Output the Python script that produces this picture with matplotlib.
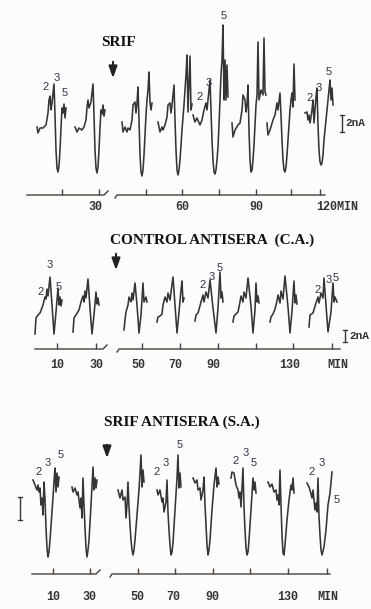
import matplotlib.pyplot as plt

W, H = 371, 609
INK = "#353535"
AXIS_INK = "#4a403a"

# ---- SRIF panel: 8 pulse complexes (x = chart position, y = pen deflection)
p1_x = [
    [37, 38, 40, 43, 46, 48, 49, 50, 51, 52, 54, 55, 56, 57, 58, 59, 60, 61, 62, 63, 64, 65, 66],
    [75, 77, 79, 82, 84, 86, 87, 88, 89, 91, 93, 94, 95, 96, 97, 98, 99, 100, 101, 102, 103, 104, 105],
    [122, 123, 125, 127, 128, 130, 132, 133, 135, 136, 137, 138, 139, 140, 141, 142, 143, 144, 145, 146, 147, 148, 149, 150, 151, 152],
    [158, 160, 162, 163, 165, 167, 168, 170, 171, 172, 174, 175, 176, 177, 178, 179, 180, 182, 184, 186, 187, 188, 190, 191, 192],
    [193, 195, 197, 200, 202, 204, 206, 207, 208, 210, 211, 212, 213, 214, 215, 216, 217, 218, 219, 220, 221, 222, 223, 224, 225, 226, 227, 228],
    [232, 233, 235, 238, 240, 242, 243, 245, 246, 247, 248, 249, 250, 251, 252, 253, 254, 255, 256, 257, 258, 259, 261, 263, 264, 265, 266],
    [267, 268, 270, 273, 275, 277, 278, 280, 281, 282, 283, 284, 285, 286, 287, 288, 289, 290, 291, 292, 293, 294, 295],
    [305, 307, 308, 309, 310, 311, 312, 313, 314, 316, 317, 318, 319, 320, 321, 322, 323, 324, 325, 326, 327, 328, 329, 330, 331, 332, 333],
]
p1_y = [
    [0, -6, -1, -1, 2, 14, 27, 31, 17, 24, 43, 12, -23, -41, -45, -39, -23, -1, 19, 14, 23, 9, 19],
    [0, -5, -1, -3, 0, 7, 20, 27, 19, 25, 43, 12, -23, -41, -46, -40, -23, -1, 17, 13, 22, 11, 17],
    [5, -5, 0, -5, -1, -3, 7, 22, 25, 14, 24, 40, 7, -28, -45, -49, -43, -28, -8, 12, 27, 37, 55, 24, 17, 24],
    [5, -5, 0, -3, 2, 10, 22, 24, 14, 22, 42, 7, -23, -43, -48, -43, -33, -3, 22, 52, 72, 15, 71, 17, 23],
    [12, 5, 9, 2, 7, 17, 24, 17, 27, 47, 17, -13, -33, -45, -47, -43, -33, -20, 2, 27, 52, 67, 102, 27, 67, 27, 62, 30],
    [4, -10, -3, 2, 4, 17, 32, 27, 15, 22, 42, -3, -33, -45, -43, -33, -18, 2, 22, 32, 85, 27, 37, 32, 89, 35, 32],
    [4, -8, -3, 7, 12, 24, 17, 34, 12, -13, -33, -43, -45, -40, -28, -13, 2, 17, 27, 34, 20, 63, 27],
    [14, 15, 7, 12, 4, 10, 17, 27, 4, 30, 39, 2, -23, -35, -38, -36, -28, -13, -3, 7, 17, 27, 37, 47, 27, 39, 22],
]
p1_peaks = [("2", 46, 40), ("3", 57, 49), ("5", 65, 34),
            ("2", 200, 30), ("3", 209, 44), ("5", 224, 111),
            ("2", 310, 29), ("3", 319, 39), ("5", 329, 55)]
p1_ticks = [62, 99, 146, 182, 219, 256, 291, 320]
p1_labels = ["30", "60", "90", "120MIN"]
p1_label_x = [95, 182, 256, 337]

# ---- CONTROL ANTISERA panel
p2_x = [
    [35, 36, 38, 40, 43, 45, 46, 47, 48, 50, 52, 54, 56, 58, 59, 60, 61, 62],
    [73, 74, 76, 79, 81, 83, 84, 85, 86, 88, 90, 92, 94, 96, 97, 98, 99],
    [124, 125, 126, 128, 129, 131, 132, 133, 135, 137, 139, 141, 143, 144, 146, 147],
    [157, 158, 160, 162, 163, 165, 167, 168, 170, 173, 175, 177, 179, 181, 182, 183, 184],
    [195, 196, 198, 201, 203, 204, 206, 208, 210, 213, 216, 218, 220, 221, 222, 223],
    [233, 234, 236, 238, 240, 241, 243, 244, 246, 248, 251, 253, 255, 256, 257, 258, 259],
    [270, 271, 273, 275, 277, 278, 280, 281, 283, 285, 288, 290, 292, 294, 295, 296, 297],
    [309, 310, 313, 316, 318, 319, 321, 323, 324, 326, 328, 331, 333, 334, 335, 337],
]
p2_y = [
    [-3, 13, 16, 18, 26, 34, 32, 42, 35, 54, 26, -3, 19, 43, 26, 34, 25, 31],
    [-1, 13, 16, 21, 29, 35, 29, 40, 33, 52, 23, -3, 16, 39, 27, 33, 26],
    [1, 11, 19, 26, 34, 29, 38, 31, 48, 26, -2, 16, 48, 29, 34, 29],
    [9, 14, 15, 17, 26, 34, 29, 38, 31, 54, 26, -2, 19, 41, 50, 29, 33],
    [10, 16, 18, 29, 36, 29, 39, 33, 51, 23, -2, 23, 59, 33, 39, 29],
    [9, 15, 17, 19, 29, 35, 29, 39, 33, 53, 25, -2, 21, 48, 29, 35, 28],
    [9, 14, 17, 22, 30, 36, 28, 40, 32, 55, 24, -2, 20, 50, 28, 36, 27],
    [4, 16, 18, 28, 34, 28, 38, 33, 53, 26, -1, 19, 48, 29, 34, 29],
]
p2_peaks = [("2", 41, 39), ("3", 50, 66), ("5", 59, 44),
            ("2", 203, 46), ("3", 212, 54), ("5", 220, 63),
            ("2", 318, 41), ("3", 329, 51), ("5", 336, 53)]
p2_ticks = [57, 96, 142, 180, 218, 256, 293, 332]
p2_labels = ["10", "30", "50", "70", "90", "130", "MIN"]
p2_label_x = [57, 96, 138, 175, 213, 290, 338]

# ---- SRIF ANTISERA panel
p3_x = [
    [33, 35, 37, 38, 39, 40, 41, 42, 43, 44, 45, 46, 47, 48, 49, 50, 52, 54, 55, 56, 57, 58, 59],
    [72, 73, 75, 77, 78, 80, 81, 82, 83, 84, 85, 86, 87, 88, 89, 91, 93, 94, 95, 96, 97],
    [118, 120, 122, 123, 125, 126, 127, 128, 129, 130, 131, 132, 133, 134, 135, 137, 139, 141, 142, 143, 144],
    [157, 158, 160, 162, 163, 164, 166, 167, 168, 169, 170, 171, 172, 173, 175, 177, 178, 179, 180, 181],
    [193, 195, 197, 198, 200, 201, 203, 204, 205, 206, 207, 208, 209, 210, 212, 214, 216, 217, 218, 219],
    [231, 232, 234, 236, 238, 239, 240, 241, 243, 244, 245, 246, 247, 248, 249, 251, 253, 254, 255, 256],
    [268, 270, 272, 274, 276, 277, 278, 279, 280, 281, 282, 283, 284, 285, 287, 289, 291, 292, 293, 294],
    [307, 309, 310, 312, 313, 314, 315, 316, 317, 318, 319, 320, 321, 322, 324, 326, 328, 330, 332],
]
p3_y = [
    [2, -3, -8, -3, -10, -6, -23, -16, -33, 0, -18, -46, -66, -75, -70, -58, -30, 0, 14, -10, 9, -5, 5],
    [-5, -10, -6, -13, -10, -26, -16, -36, 4, -23, -46, -66, -75, -68, -58, -23, 15, -8, 4, -6, 2],
    [-8, -16, -8, -18, -15, -36, -23, 0, -25, -43, -58, -68, -73, -68, -58, -33, -8, 27, -5, 12, 0],
    [-8, -13, -8, -20, -16, -30, -20, 2, -31, -48, -63, -73, -70, -61, -28, 4, 27, -6, 9, -5],
    [4, -1, 2, -8, -6, -18, -8, 5, -23, -43, -63, -73, -68, -58, -28, -3, 14, -5, 5, -2],
    [4, 10, 9, -3, -8, -16, -10, -25, 14, -25, -48, -66, -73, -70, -58, -28, 4, -8, 0, -11],
    [0, -5, -2, -10, -8, -18, -13, -23, 12, -23, -53, -71, -73, -63, -38, -18, -3, -8, 4, -11],
    [-1, -5, -8, -16, -8, -18, -28, -21, -30, 4, -35, -53, -68, -73, -65, -48, -23, -11, 10],
]
p3_peaks = [("2", 39, 10), ("3", 48, 19), ("5", 61, 27),
            ("2", 157, 10), ("3", 166, 19), ("5", 180, 37),
            ("2", 236, 21), ("3", 246, 29), ("5", 254, 19),
            ("2", 312, 10), ("3", 322, 19), ("5", 337, -18)]
p3_ticks = [53, 90, 138, 175, 213, 250, 288, 327]
p3_labels = ["10", "30", "50", "70", "90", "130", "MIN"]
p3_label_x = [53, 89, 137, 173, 212, 288, 328]

panels = [
    dict(title="SRIF", xs=p1_x, ys=p1_y, peaks=p1_peaks, ticks=p1_ticks,
         labels=p1_labels, label_x=p1_label_x, top=0, bottom=215, base=127,
         title_xy=(118, 84), arrow=(113, 68, 46), axis_y=-68, label_y=-80,
         seg1=(27, 104), seg2=(115, 325), bar=(342, 12, -5), bar_text=(345, 4)),
    dict(title="CONTROL ANTISERA  (C.A.)", xs=p2_x, ys=p2_y, peaks=p2_peaks,
         ticks=p2_ticks, labels=p2_labels, label_x=p2_label_x, top=215,
         bottom=395, base=331, title_xy=(212, 91), arrow=(116, 80, 58),
         axis_y=-18, label_y=-34, seg1=(35, 103), seg2=(117, 340),
         bar=(345, 1, -11), bar_text=(349, -5)),
    dict(title="SRIF ANTISERA (S.A.)", xs=p3_x, ys=p3_y, peaks=p3_peaks,
         ticks=p3_ticks, labels=p3_labels, label_x=p3_label_x, top=395,
         bottom=609, base=482, title_xy=(182, 60), arrow=(107, 40, 21),
         axis_y=-92, label_y=-115, seg1=(32, 96), seg2=(110, 330),
         bar=(20, -15, -38), bar_text=None),
]

fig = plt.figure(figsize=(W / 100, H / 100), dpi=100)
fig.patch.set_facecolor("#fcfcfc")

for p in panels:
    h = p["bottom"] - p["top"]
    ax = fig.add_axes([0, 1 - p["bottom"] / H, 1, h / H])
    ax.set_xlim(0, W)
    ax.set_ylim(p["base"] - p["bottom"], p["base"] - p["top"])
    ax.axis("off")

    for xs, ys in zip(p["xs"], p["ys"]):
        ax.plot(xs, ys, color=INK, lw=1.15, solid_joinstyle="round")

    for txt, x, y in p["peaks"]:
        ax.text(x, y, txt, ha="center", va="center", fontsize=8,
                family="Liberation Sans", color="#33334a")

    ax.text(*p["title_xy"], p["title"], ha="center", va="center",
            fontsize=11, family="Liberation Serif", weight="bold", color="#111111")

    ax_x, top_y, tip_y = p["arrow"]
    ax.annotate("", xy=(ax_x, tip_y), xytext=(ax_x, top_y),
                arrowprops=dict(arrowstyle="-|>,head_width=0.25,head_length=0.7",
                                color="#222222", lw=1.5, mutation_scale=10))

    # broken time axis
    L = p["axis_y"]
    a0, b0 = p["seg1"]
    c0, d0 = p["seg2"]
    ax.plot([a0, b0, b0 + 4], [L, L, L + 4], color=AXIS_INK, lw=1.0)
    ax.plot([c0, c0 + 2, d0], [L - 3, L, L], color=AXIS_INK, lw=1.0)
    ax.vlines(p["ticks"], L, L + 6, color=AXIS_INK, lw=1.0)
    for lab, x in zip(p["labels"], p["label_x"]):
        ax.text(x, p["label_y"], lab, ha="center", va="center", fontsize=8.5,
                family="Liberation Mono", weight="bold", color="#333333")

    # 2 nA scale bar
    bx, b_top, b_bot = p["bar"]
    ax.plot([bx, bx], [b_top, b_bot], color=INK, lw=1.0)
    ax.plot([bx - 2, bx + 2], [b_top, b_top], color=INK, lw=0.9)
    ax.plot([bx - 2, bx + 2], [b_bot, b_bot], color=INK, lw=0.9)
    if p["bar_text"]:
        ax.text(*p["bar_text"], "2nA", ha="left", va="center", fontsize=8,
                family="Liberation Mono", weight="bold", color="#333333")

fig.savefig("out.png", dpi=100, facecolor=fig.get_facecolor())
